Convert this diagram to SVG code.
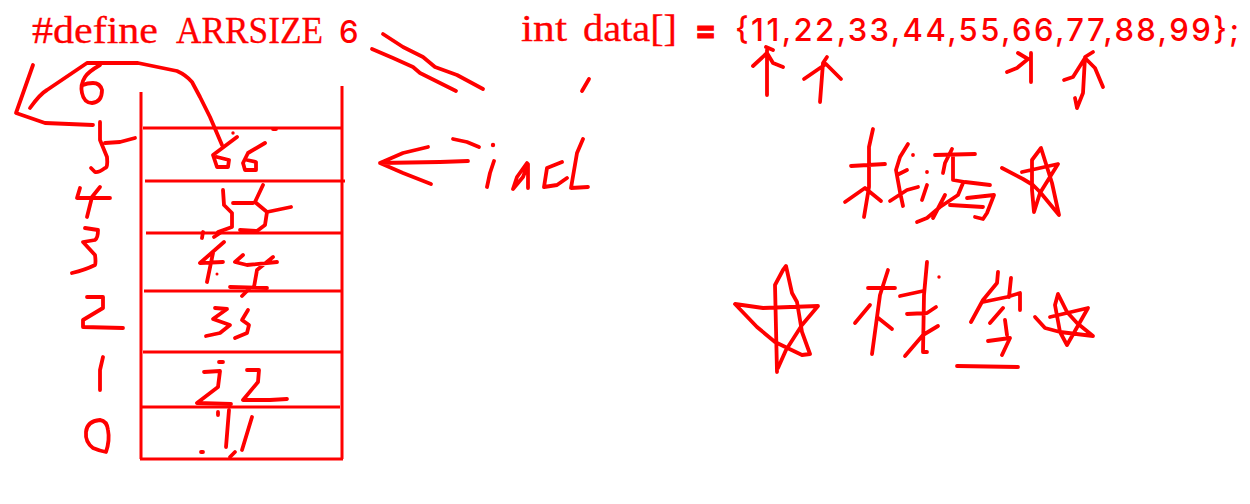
<svg xmlns="http://www.w3.org/2000/svg" width="1250" height="504" viewBox="0 0 1250 504">
<style>
.s{fill:none;stroke:#f00;stroke-width:3.8;stroke-linecap:round;stroke-linejoin:round}
.b{fill:none;stroke:#f00;stroke-width:3}
.d{fill:#f00}
.t{fill:#f00;font-family:"Liberation Serif",serif;font-size:37px;stroke:#f00;stroke-width:.3}
.n{fill:#f00;font-family:Inter,"Liberation Sans",sans-serif;font-size:31px;font-weight:500}
</style>
<rect width="1250" height="504" fill="#fff"/>
<text class="t" x="32" y="43" textLength="126" lengthAdjust="spacingAndGlyphs">#define</text>
<text class="t" x="176" y="43" textLength="147" lengthAdjust="spacingAndGlyphs">ARRSIZE</text>
<text class="n" x="339" y="43" font-size="30">6</text>
<text class="t" x="521" y="41" textLength="46" lengthAdjust="spacingAndGlyphs">int</text>
<text class="t" x="583" y="41" textLength="94" lengthAdjust="spacingAndGlyphs">data[]</text>
<text class="n" x="695" y="41" style="font-weight:800;stroke:#f00;stroke-width:1">=</text>
<text class="n" x="735" y="41" textLength="504">{11,22,33,44,55,66,77,88,99};</text>
<g id="stack">
<path class="b" d="M141 92V459M342 86V459M140 459H343M143 128H342M145 181H345M146 233H342M144 291H342M143 352H342M142 407H340"/>
</g>
<g id="index-labels">
<path class="s" d="M33 65L16 113L45 123L93 125"/>
<path class="s" d="M30 108Q40 94 47 90L87 63L138 63L177 71Q186 75 192 82L200 97L210 117L222 145"/>
<path class="s" d="M100 65Q88 72 85 77Q80 85 82 93Q84 103 92 103Q102 102 102 90Q100 83 93 83Q87 83 83 85"/>
<path class="s" d="M100 122V140L107 157Q108 168 105 168Q98 173 95 172L91 168M105 143L120 142L135 138"/>
<path class="s" d="M80 188L77 198L110 198M100 187L92 197L87 217"/>
<path class="s" d="M85 228L98 230Q98 238 95 240L83 242L95 255Q96 262 95 265Q85 270 72 273"/>
<path class="s" d="M87 297H103V308L83 320V327L123 328"/>
<path class="s" d="M103 357L100 370V390"/>
<path class="s" d="M100 420Q87 421 86 432Q85 442 93 448Q100 451 106 452Q110 440 108 430Q107 421 100 420Z"/>
</g>
<g id="cell-values">
<path class="s" d="M237 137L213 155L217 167L228 167L229 160L217 157M265 143L248 153L243 163L245 170L256 170L256 162L247 160"/>
<circle class="d" cx="233" cy="133" r="1.7"/>
<path class="s" d="M273 129L276 129"/>
<path class="s" d="M223 190L224 205L232 213L232 227L218 232M233 203L253 203M263 185L255 202L267 212L265 225L257 231L240 230M267 212L291 207M203 232L202 238M220 233L214 237"/>
<path class="s" d="M224 242L200 263L223 262M213 253L207 282M243 255L235 262L247 265L277 262M273 257L257 270L254 287M230 287L267 288M250 288L242 296"/>
<circle class="d" cx="217" cy="274" r="1.5"/>
<path class="s" d="M215 308L227 309L213 319L230 325L220 333L206 336M248 310L242 320L249 325L247 333L235 338"/>
<path class="s" d="M204 372L220 371L218 387L197 403L231 404M247 370L259 370L258 382L243 400L270 400L287 399M219 362L223 362"/>
<path class="s" d="M229 410L226 447M252 417L242 450M235 452L230 457M218 412L218 415M201 452L203 452"/>
</g>
<g id="iadd-arrow">
<path class="s" d="M468 161L440 162L380 163M428 147L403 153L380 163L403 173L431 184M453 139L467 142L479 147"/>
<path class="s" d="M494 161L490 173L487 187M527 163L517 177L513 189L523 177L528 164L528 188M562 162L547 168L544 187L557 185L567 178M583 139L577 153L571 188L588 187"/>
<circle class="d" cx="493" cy="145" r="2.2"/>
</g>
<g id="strokes">
<path class="s" d="M383 34L403 47L423 57L435 67L457 75L483 89M372 49L393 58L413 67L420 73L456 91"/>
<path class="s" d="M589 79L582 91"/>
</g>
<g id="pointer-arrows">
<path class="s" d="M767 95V50M753 66L767 53L773 63L783 67M766 47L773 50"/>
<path class="s" d="M820 102L823 63L827 57M804 79L820 68L826 64L841 79"/>
<path class="s" d="M1031 82V53M1007 72L1017 68L1028 59L1018 53"/>
<path class="s" d="M1077 108L1083 93L1085 57L1093 52M1064 80L1073 77L1085 58L1095 68L1103 87M1075 98L1077 108"/>
</g>
<g id="handwriting-top">
<path class="s" d="M873 129L869 147L869 187L864 217M851 166L885 164M845 202L865 188L881 201"/>
<path class="s" d="M908 144L900 157L896 170L900 192L903 206M907 170L897 175M890 201L907 190L918 187M913 155L913 155M927 172L927 172M927 185L922 200"/>
<path class="s" d="M935 155L975 154M952 149L945 163L943 173M953 155L953 180L965 182L990 185M963 183L958 195L940 207L927 218L917 222M945 195L933 218M950 205L983 207M967 198L994 195L987 213L983 219L975 217"/>
<path class="s" d="M1002 168L1023 179L1033 185L1040 192L1059 215L1052 183L1041 148L1032 160L1032 190L1034 212L1040 193L1058 164L1022 172"/>
</g>
<g id="handwriting-bottom">
<path class="s" d="M777 372L775 285L783 270L786 266L792 293L797 302L802 332L810 354L802 355L775 342L757 327L735 304L763 308L818 306L802 325L786 350L778 368"/>
<path class="s" d="M888 270L880 295L872 354M868 288L895 288M855 323L870 305M877 317L892 329"/>
<path class="s" d="M927 262L924 295L923 352L927 352M900 296L923 291M907 314L927 313L936 307M905 356L923 335L938 326"/>
<circle class="d" cx="939" cy="277" r="1.7"/>
<path class="s" d="M998 272L997 283L983 300L971 322M983 302L1007 297L1020 293L1020 310M1011 278L1009 297M1003 308L990 323M1005 320L1007 335M988 341L1010 338L1002 355M957 366L1018 367"/>
<path class="s" d="M1035 317L1045 328L1060 332L1093 336L1077 323L1067 312L1058 294L1055 305L1060 332L1067 345L1088 308L1050 317"/>
</g>
</svg>
